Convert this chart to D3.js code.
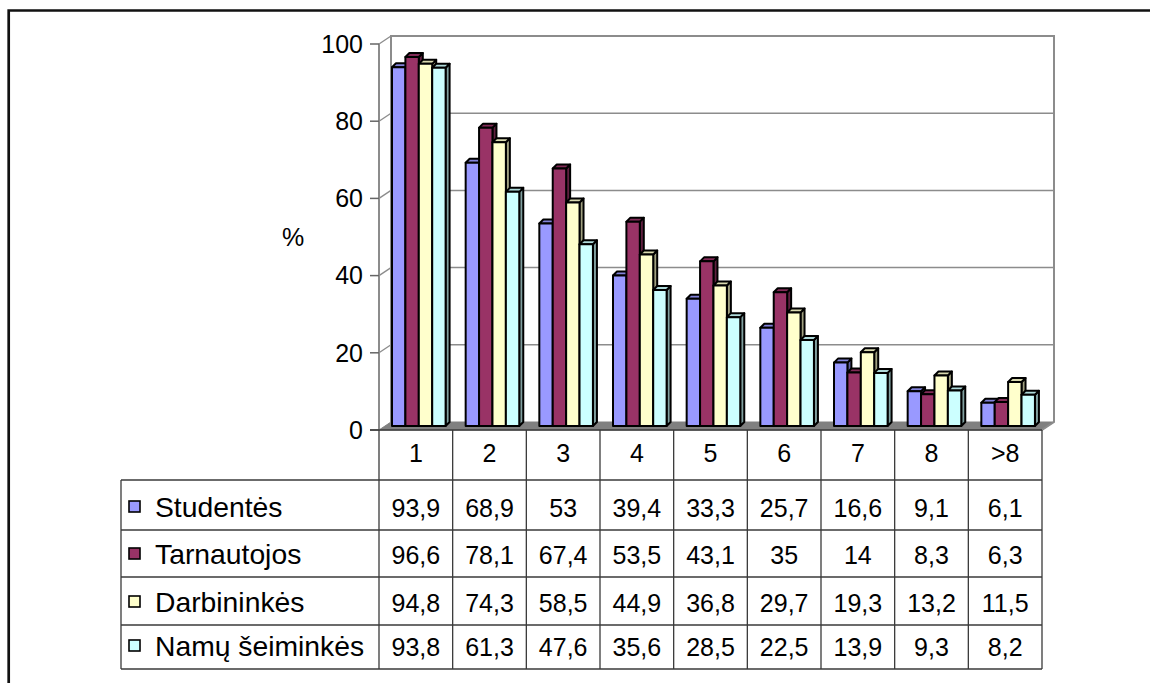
<!DOCTYPE html>
<html>
<head>
<meta charset="utf-8">
<script src="https://cdn.jsdelivr.net/npm/d3@7"></script>
<style>
  html, body { margin: 0; padding: 0; background: #fff; }
  svg text { font-family: "Liberation Sans", Arial, sans-serif; fill: #000; }
</style>
</head>
<body>
<svg id="chart" width="1150" height="683"></svg>
<script>
// Category labels (number of ...) and the four groups of women
const categories = ["1", "2", "3", "4", "5", "6", "7", "8", ">8"];
const seriesNames = ["Studentės", "Tarnautojos", "Darbininkės", "Namų šeiminkės"];

// Percentages per category for each group
const studentes       = [93.9, 68.9, 53.0, 39.4, 33.3, 25.7, 16.6, 9.1, 6.1];
const tarnautojos     = [96.6, 78.1, 67.4, 53.5, 43.1, 35.0, 14.0, 8.3, 6.3];
const darbininkes     = [94.8, 74.3, 58.5, 44.9, 36.8, 29.7, 19.3, 13.2, 11.5];
const namuSeimininkes = [93.8, 61.3, 47.6, 35.6, 28.5, 22.5, 13.9, 9.3, 8.2];

const yTicks = [0, 20, 40, 60, 80, 100];
const yLabel = "%";

const seriesValues = [studentes, tarnautojos, darbininkes, namuSeimininkes];
const seriesColors = ["#9999FF", "#993366", "#FFFFCC", "#CCFFFF"];

const svg = d3.select("#chart");

// ---- layout ----
const plotLeft = 379, plotRight = 1042;
const plotBottom = 430, plotTop = 44;
const depth = { dx: 12, dy: -8 };      // floor / wall depth
const barShift = { dx: 6, dy: -4 };    // bar plane inside the depth
const barDepth = { dx: 4, dy: -4 };    // thickness of each column
const fontSize = 25;
const legendFontSize = 28.3;

const x = d3.scaleBand().domain(categories).range([plotLeft, plotRight]).padding(0);
const bw = 13.4;
const x1 = d3.scaleBand().domain(d3.range(seriesNames.length))
  .range([7, 7 + bw * seriesNames.length]).padding(0);
const y = d3.scaleLinear().domain([0, 100]).range([plotBottom, plotTop]);
const yBar = d3.scaleLinear().domain([0, 100]).range([plotBottom + barShift.dy, plotTop]);

// ---- outer frame ----
svg.append("path")
  .attr("d", `M8.7,683 L8.7,10.5 L1150,10.5`)
  .attr("fill", "none").attr("stroke", "#111").attr("stroke-width", 2.7);

// ---- walls ----
const wallColor = "#8c8c8c";
const backL = plotLeft + depth.dx, backR = plotRight + depth.dx;
const yBack = v => y(v) + depth.dy;

// floor
svg.append("path")
  .attr("d", `M${plotLeft},${plotBottom} L${plotRight},${plotBottom} L${backR},${yBack(0)} L${backL},${yBack(0)} Z`)
  .attr("fill", "#808080").attr("stroke", "#808080").attr("stroke-width", 1);

// back wall gridlines
svg.append("g").selectAll("line").data(yTicks.filter(t => t > 0)).join("line")
  .attr("x1", backL).attr("x2", backR)
  .attr("y1", d => yBack(d)).attr("y2", d => yBack(d))
  .attr("stroke", wallColor).attr("stroke-width", 1.5);

// side wall diagonals at each tick
svg.append("g").selectAll("line").data(yTicks.filter(t => t > 0)).join("line")
  .attr("x1", plotLeft).attr("x2", backL)
  .attr("y1", d => y(d)).attr("y2", d => yBack(d))
  .attr("stroke", wallColor).attr("stroke-width", 1.3);

// back wall edges
svg.append("path")
  .attr("d", `M${backL},${yBack(0)} L${backL},${yBack(100)} L${backR},${yBack(100)} L${backR},${yBack(0)} L${plotRight},${plotBottom}`)
  .attr("fill", "none").attr("stroke", wallColor).attr("stroke-width", 2);

// ---- value axis ----
svg.append("line")
  .attr("x1", plotLeft).attr("x2", plotLeft)
  .attr("y1", y(0)).attr("y2", y(100))
  .attr("stroke", wallColor).attr("stroke-width", 2);
svg.append("g").selectAll("line").data(yTicks).join("line")
  .attr("x1", plotLeft - 9).attr("x2", plotLeft)
  .attr("y1", d => y(d)).attr("y2", d => y(d))
  .attr("stroke", "#666").attr("stroke-width", 1.5);
svg.append("g").selectAll("text").data(yTicks).join("text")
  .attr("x", plotLeft - 16).attr("y", d => y(d))
  .attr("dy", "0.35em")
  .attr("text-anchor", "end")
  .attr("font-size", fontSize)
  .text(d => d);
svg.append("text")
  .attr("x", 293).attr("y", 237).attr("dy", "0.35em")
  .attr("text-anchor", "middle").attr("font-size", fontSize)
  .text(yLabel);

// ---- 3D columns ----
const bars = svg.append("g");
categories.forEach((cat, ci) => {
  seriesValues.forEach((vals, si) => {
    const v = vals[ci];
    const x0 = x(cat) + x1(si) + barShift.dx;
    const x2 = x0 + x1.bandwidth();
    const yb = yBar(0), yt = yBar(v);
    const c = d3.color(seriesColors[si]);
    const g = bars.append("g")
      .attr("stroke", "#000").attr("stroke-width", 2).attr("stroke-linejoin", "round");
    // side face
    g.append("path")
      .attr("d", `M${x2},${yb} L${x2 + barDepth.dx},${yb + barDepth.dy} L${x2 + barDepth.dx},${yt + barDepth.dy} L${x2},${yt} Z`)
      .attr("fill", c.darker(1.3).formatHex());
    // top face
    g.append("path")
      .attr("d", `M${x0},${yt} L${x0 + barDepth.dx},${yt + barDepth.dy} L${x2 + barDepth.dx},${yt + barDepth.dy} L${x2},${yt} Z`)
      .attr("fill", c.darker(0.45).formatHex());
    // front face
    g.append("rect")
      .attr("x", x0).attr("y", yt)
      .attr("width", x2 - x0).attr("height", yb - yt)
      .attr("fill", seriesColors[si]);
  });
});

// ---- data table ----
const tableTop = plotBottom;
const rowLines = [480, 530, 577, 625, 669];
const legendLeft = 121;
const lineColor = "#3a3a3a";
const table = svg.append("g");

// horizontal lines
table.append("line")
  .attr("x1", plotLeft - 9).attr("x2", plotRight)
  .attr("y1", tableTop).attr("y2", tableTop)
  .attr("stroke", lineColor).attr("stroke-width", 1.3);
table.selectAll("line.row").data(rowLines).join("line")
  .attr("class", "row")
  .attr("x1", legendLeft).attr("x2", plotRight)
  .attr("y1", d => d).attr("y2", d => d)
  .attr("stroke", lineColor).attr("stroke-width", 1.3);

// vertical lines
const colEdges = categories.map(c => x(c)).concat([plotRight]);
table.selectAll("line.col").data(colEdges).join("line")
  .attr("class", "col")
  .attr("x1", d => d).attr("x2", d => d)
  .attr("y1", tableTop).attr("y2", rowLines[rowLines.length - 1])
  .attr("stroke", lineColor).attr("stroke-width", 1.3);
table.append("line")
  .attr("x1", legendLeft).attr("x2", legendLeft)
  .attr("y1", rowLines[0]).attr("y2", rowLines[rowLines.length - 1])
  .attr("stroke", lineColor).attr("stroke-width", 1.3);

// category labels
table.selectAll("text.cat").data(categories).join("text")
  .attr("class", "cat")
  .attr("x", d => x(d) + x.bandwidth() / 2)
  .attr("y", 462)
  .attr("text-anchor", "middle").attr("font-size", fontSize)
  .text(d => d);

// legend and values
const fmt = v => String(v).replace(".", ",");
seriesNames.forEach((name, si) => {
  const bottom = rowLines[si + 1];
  const base = bottom - 13;
  table.append("rect")
    .attr("x", 129).attr("y", base - 16)
    .attr("width", 11).attr("height", 11)
    .attr("fill", seriesColors[si]).attr("stroke", "#000").attr("stroke-width", 1.6);
  table.append("text")
    .attr("x", 155).attr("y", base)
    .attr("font-size", legendFontSize)
    .text(name);
  table.selectAll(null).data(seriesValues[si]).join("text")
    .attr("x", (d, i) => x(categories[i]) + x.bandwidth() / 2)
    .attr("y", base)
    .attr("text-anchor", "middle").attr("font-size", fontSize)
    .text(d => fmt(d));
});
</script>
</body>
</html>
